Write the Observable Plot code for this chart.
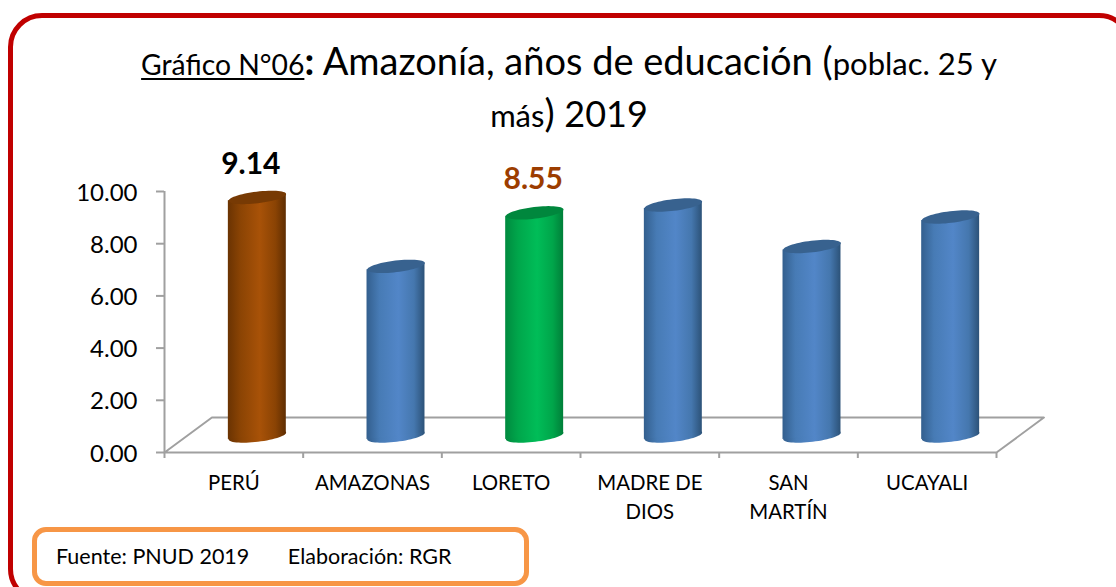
<!DOCTYPE html>
<html lang="es">
<head>
<meta charset="utf-8">
<script src="https://cdn.jsdelivr.net/npm/d3@7"></script>
<script src="https://cdn.jsdelivr.net/npm/@observablehq/plot@0.6"></script>
<style>
html,body{margin:0;padding:0;width:1116px;height:587px;overflow:hidden;background:#fff;font-family:Lato,sans-serif;color:#000}
#wrap{position:relative;width:1116px;height:587px;overflow:hidden}
#frame{position:absolute;left:8px;top:13px;width:1125px;height:590px;border:5px solid #c00000;border-radius:34px;box-sizing:border-box}
#title{position:absolute;left:0;top:36px;width:1138px;text-align:center;line-height:48px;font-size:38px;font-weight:400;white-space:pre}
#title .s{font-size:31px}
#title .y{font-size:36px}
#title u{font-size:28.3px;text-decoration-thickness:2px;text-underline-offset:3px}
#chart{position:absolute;left:0;top:0}
#note{position:absolute;left:32px;top:527px;width:497px;height:59px;box-sizing:border-box;border:5px solid #f79646;border-radius:14px;background:#fff;font-size:21.5px;line-height:49px;padding-left:19px;white-space:pre}
</style>
</head>
<body>
<div id="wrap">
  <div id="frame"></div>
  <div id="title"><u>Gráfico N°06</u><b>:</b> Amazonía, años de educación (<span class="s">poblac. 25 y</span>
<span class="s">más</span>) <span class="y">2019</span></div>
  <div id="chart"></div>
  <div id="note">Fuente: PNUD 2019       Elaboración: RGR</div>
</div>
<script>
const categories = ["PERÚ", "AMAZONAS", "LORETO", "MADRE DE\nDIOS", "SAN\nMARTÍN", "UCAYALI"];
const values = [9.14, 6.50, 8.55, 8.85, 7.26, 8.39];
const bodyFills = ["url(#gBrown)", "url(#gBlue)", "url(#gGreen)", "url(#gBlue)", "url(#gBlue)", "url(#gBlue)"];
const topFills = ["#773a04", "#38628f", "#00873d", "#38628f", "#38628f", "#38628f"];
const yTicks = [0, 2, 4, 6, 8, 10];
const slotEdges = [0, 1, 2, 3, 4, 5, 6];
const floorX = [0, 6, 6.342, 0.342, 0];
const floorY = [0, 0, 1.34, 1.34, 0];
const labelled = [
  {category: 0, value: 9.14, text: "9.14", color: "#000000", shift: 17},
  {category: 2, value: 8.55, text: "8.55", color: "#9c3d00", shift: 22}
];
const gradients = {
  gBrown: ["#6a3302", "#8b4404", "#a85208", "#8a4304", "#5f2d01"],
  gBlue: ["#335f8e", "#477bb5", "#5286c8", "#4577ae", "#2c5278"],
  gGreen: ["#008a3f", "#00a64b", "#00bd58", "#00a54a", "#007f39"]
};

const halfWidth = 0.209, tilt = 0.13, depthX = 23.5, depthY = -16.5;
const centres = categories.map((_, i) => i + 0.5);
const body = categories.flatMap((c, i) => [
  {c, x: centres[i] - halfWidth, y1: -tilt, y2: values[i] - tilt, fill: bodyFills[i]},
  {c, x: centres[i] + halfWidth, y1: tilt, y2: values[i] + tilt, fill: bodyFills[i]}
]);
const rows = categories.map((c, i) => ({c, x: centres[i], v: values[i], fill: bodyFills[i], top: topFills[i]}));

// Tilted flat ellipse used for the cylinder caps.
const ellipse = {
  draw(ctx, size) {
    const rx = Math.sqrt(size / Math.PI), ry = rx * 0.2, a = -0.12, n = 60;
    for (let k = 0; k < n; ++k) {
      const t = 2 * Math.PI * k / n, ex = rx * Math.cos(t), ey = ry * Math.sin(t);
      const px = ex * Math.cos(a) - ey * Math.sin(a), py = ex * Math.sin(a) + ey * Math.cos(a);
      k ? ctx.lineTo(px, py) : ctx.moveTo(px, py);
    }
    ctx.closePath();
  }
};

const defs = () => {
  const d = d3.create("svg:defs");
  for (const [id, stops] of Object.entries(gradients)) {
    const g = d.append("linearGradient").attr("id", id).attr("x1", 0).attr("x2", 1).attr("y1", 0).attr("y2", 0);
    const offs = [0, 0.22, 0.55, 0.82, 1];
    stops.forEach((s, i) => g.append("stop").attr("offset", offs[i]).attr("stop-color", s));
  }
  return d.node();
};

const grey = "#a0a0a0";
const plot = Plot.plot({
  width: 1116, height: 587,
  marginLeft: 164, marginRight: 120, marginTop: 191, marginBottom: 135,
  style: {background: "transparent", fontFamily: "Lato, sans-serif", overflow: "visible"},
  x: {domain: [0, 6], label: null},
  y: {domain: [0, 10], label: null},
  color: {type: "identity"},
  marks: [
    defs,
    Plot.line(floorX.map((x, i) => ({x, y: floorY[i]})), {x: "x", y: "y", stroke: grey, strokeWidth: 2}),
    Plot.ruleX([0], {y1: 0, y2: 10, stroke: grey, strokeWidth: 2}),
    Plot.axisY({ticks: yTicks, tickSize: 8, text: null, stroke: grey, strokeWidth: 2, label: null}),
    Plot.axisY({ticks: yTicks, tickFormat: d3.format(".2f"), tickSize: 0, tickPadding: 27, fill: "#000", fontSize: 24, dy: 1.5, label: null}),
    Plot.axisX({ticks: slotEdges, tickSize: 6, text: null, stroke: grey, strokeWidth: 2, label: null}),
    Plot.axisX({ticks: centres, tickSize: 0, tickPadding: 17, tickFormat: (d) => categories[Math.floor(d)], fill: "#000", fontSize: 20.4, lineHeight: 1.42, label: null}),
    Plot.dot(rows, {x: "x", y: () => 0, symbol: ellipse, r: 29, fill: "fill", dx: depthX, dy: depthY}),
    Plot.areaY(body, {x: "x", y1: "y1", y2: "y2", z: "c", fill: "fill", dx: depthX, dy: depthY}),
    Plot.dot(rows, {x: "x", y: "v", symbol: ellipse, r: 29, fill: "top", dx: depthX, dy: depthY}),
    ...labelled.map((l) => Plot.text([l], {
      x: (d) => centres[d.category], y: "value", text: "text", fill: "color",
      dx: l.shift, dy: -50, fontSize: 30, fontWeight: 700
    }))
  ]
});
document.getElementById("chart").appendChild(plot);
</script>
</body>
</html>
